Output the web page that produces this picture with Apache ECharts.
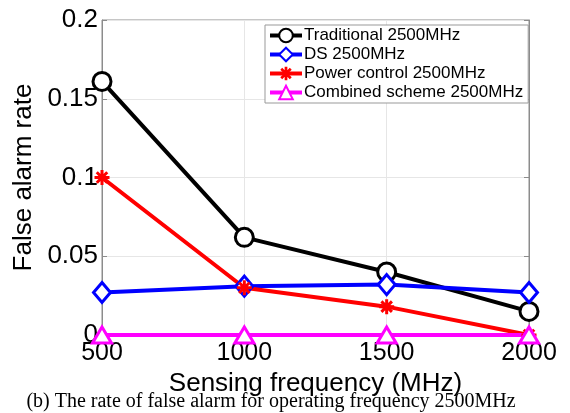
<!DOCTYPE html>
<html>
<head>
<meta charset="utf-8">
<script src="https://cdn.jsdelivr.net/npm/echarts@6/dist/echarts.min.js"></script>
<style>
  html, body { margin: 0; padding: 0; background: #fff; }
  #chart { width: 570px; height: 413px; }
</style>
</head>
<body>
<div id="chart"></div>
<script>
// 数据
const freqs = [500, 1000, 1500, 2000];
const traditional = [0.161, 0.062, 0.040, 0.015];
const ds = [0.027, 0.031, 0.032, 0.027];
const powerControl = [0.100, 0.030, 0.018, 0];
const combined = [0, 0, 0, 0];
const yTicks = [0, 0.05, 0.1, 0.15, 0.2];

const names = [
  "Traditional 2500MHz",
  "DS 2500MHz",
  "Power control 2500MHz",
  "Combined scheme 2500MHz",
];

// 星号形状
const asterisk =
  "path://M-1,-5L1,-5L1,5L-1,5Z M-5,-1L5,-1L5,1L-5,1Z " +
  "M-2.8,-4.2L4.2,2.8L2.8,4.2L-4.2,-2.8Z M2.8,-4.2L4.2,-2.8L-2.8,4.2L-4.2,2.8Z";

function pairs(arr) {
  return freqs.map((f, i) => [f, arr[i]]);
}

function makeSeries(name, data, color, symbol, size, hollow) {
  return {
    name: name,
    type: "line",
    data: pairs(data),
    symbol: symbol,
    symbolSize: size,
    showSymbol: true,
    lineStyle: { color: color, width: 4 },
    itemStyle: hollow
      ? { color: "#fff", borderColor: color, borderWidth: 3 }
      : { color: color, borderColor: color, borderWidth: 0 },
    emphasis: { disabled: true },
    animation: false,
  };
}

const gridLine = { show: true, lineStyle: { color: "#e6e6e6", width: 1 } };
const axisGrey = "#8c8c8c";

let myChart = echarts.init(document.getElementById("chart"));
let option = {
  backgroundColor: "#fff",
  textStyle: { fontFamily: "Liberation Sans" },
  grid: {
    left: 102, right: 41, top: 20, bottom: 78,
    show: true, borderColor: axisGrey, borderWidth: 1,
  },
  legend: {
    data: names,
    orient: "vertical",
    left: 265, top: 25,
    padding: [2, 5, 2, 3],
    itemGap: 2,
    itemWidth: 32,
    itemHeight: 17,
    lineStyle: { width: 4 },
    backgroundColor: "#fff",
    borderColor: "#999",
    borderWidth: 1,
    textStyle: { fontSize: 17, color: "#000", fontFamily: "Liberation Sans", padding: [0, 0, 0, -3] },
  },
  xAxis: [
    {
      type: "value",
      min: 500, max: 2000, interval: 500,
      name: "Sensing frequency (MHz)",
      nameLocation: "middle",
      nameGap: 25,
      nameTextStyle: { fontSize: 26, color: "#000", fontFamily: "Liberation Sans" },
      axisLine: { show: true, lineStyle: { color: axisGrey } },
      axisTick: { show: true, inside: true, length: 5, lineStyle: { color: axisGrey } },
      axisLabel: {
        fontSize: 25, color: "#000", margin: 6, fontFamily: "Liberation Sans",
        formatter: (v) => String(v),
      },
      splitLine: gridLine,
    },
    {
      type: "value", position: "top",
      min: 500, max: 2000, interval: 500,
      axisLine: { show: true, lineStyle: { color: axisGrey } },
      axisTick: { show: true, inside: true, length: 5, lineStyle: { color: axisGrey } },
      axisLabel: { show: false },
      splitLine: { show: false },
    },
  ],
  yAxis: [
    {
      type: "value",
      min: yTicks[0], max: yTicks[yTicks.length - 1], interval: 0.05,
      name: "False alarm rate",
      nameLocation: "middle",
      nameGap: 64,
      nameTextStyle: { fontSize: 26, color: "#000", fontFamily: "Liberation Sans" },
      axisLine: { show: true, lineStyle: { color: axisGrey } },
      axisTick: { show: true, inside: true, length: 5, lineStyle: { color: axisGrey } },
      axisLabel: {
        fontSize: 26, color: "#000", margin: 4, fontFamily: "Liberation Sans",
        formatter: (v) => (v === 0 ? "0" : String(+v.toFixed(2))),
      },
      splitLine: gridLine,
    },
    {
      type: "value", position: "right",
      min: 0, max: 0.2, interval: 0.05,
      axisLine: { show: true, lineStyle: { color: axisGrey } },
      axisTick: { show: true, inside: true, length: 5, lineStyle: { color: axisGrey } },
      axisLabel: { show: false },
      splitLine: { show: false },
    },
  ],
  graphic: [
    {
      type: "text",
      x: 271,
      y: 402,
      style: {
        text: "(b) The rate of false alarm for operating frequency 2500MHz",
        font: '20px "Liberation Serif"',
        fill: "#000",
        textAlign: "center",
        textVerticalAlign: "middle",
      },
    },
  ],
  series: [
    makeSeries(names[0], traditional, "#000000", "circle", 18, true),
    makeSeries(names[1], ds, "#0000ff", "diamond", [17, 20], true),
    makeSeries(names[2], powerControl, "#ff0000", asterisk, 15, false),
    makeSeries(names[3], combined, "#ff00ff", "triangle", [19, 16], true),
  ],
};
myChart.setOption(option);
</script>
</body>
</html>
